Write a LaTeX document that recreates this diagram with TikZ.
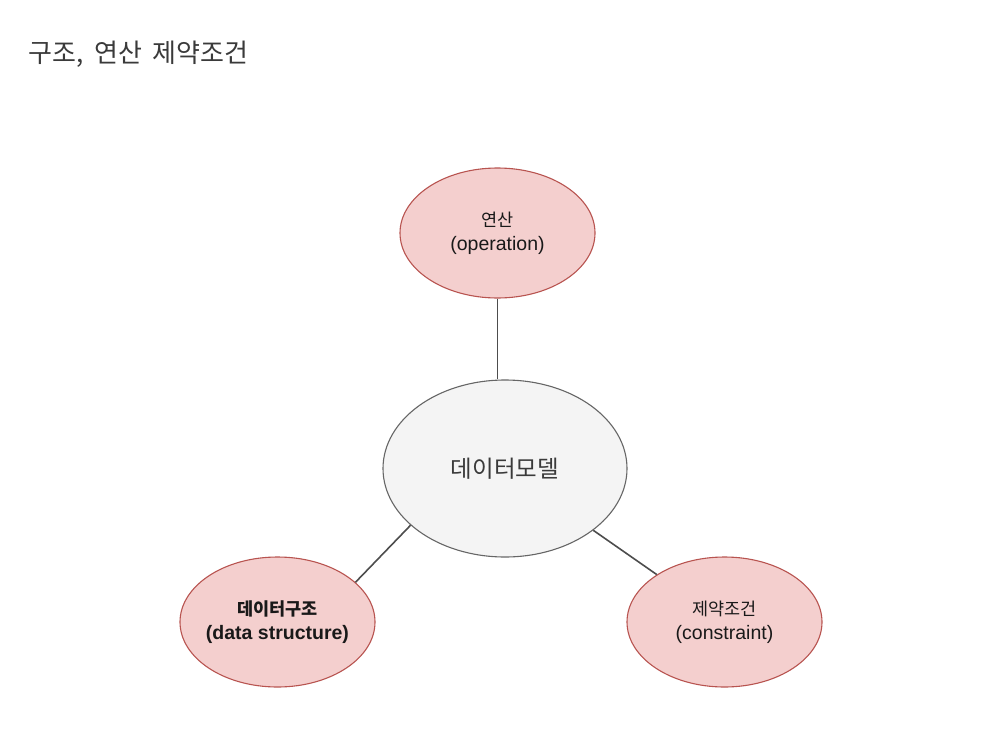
\documentclass[tikz,border=0pt]{standalone}
\usepackage{fontspec}
\setmainfont{Liberation Sans}
\newfontfamily\cjk{Noto Sans CJK KR}
\usetikzlibrary{shapes.geometric}
\definecolor{pinkfill}{HTML}{F4CFCE}
\definecolor{pinkline}{HTML}{B85450}
\definecolor{greyfill}{HTML}{F4F4F4}
\definecolor{greyline}{HTML}{666666}
\definecolor{linkc}{HTML}{4D4D4D}
\definecolor{titlec}{HTML}{3A3A3A}
\begin{document}
\begin{tikzpicture}[x=1pt,y=-1pt,
  blob/.style={ellipse, draw=pinkline, fill=pinkfill, line width=1.1pt, minimum width=195pt, minimum height=130pt, inner sep=0pt},
  hub/.style={ellipse, draw=greyline, fill=greyfill, line width=1.1pt, minimum width=244pt, minimum height=177pt, inner sep=0pt},
  lbl/.style={align=center, text=black!90, font=\fontsize{19.5}{24}\selectfont, inner sep=0pt},
  link/.style={draw=linkc, line width=1.6pt}]
\fill[white] (0,0) rectangle (998,744);
\path[use as bounding box] (0,0) rectangle (998,744);
\node[anchor=base west, inner sep=0pt, text=titlec, font=\cjk\fontsize{26}{30}\selectfont] (title) at (28,62) {구조,\hspace{0.42em}연산\hspace{0.42em}제약조건};
\node[blob] (op) at (497.5,233) {};
\node[hub] (dm) at (505,468.5) {};
\node[blob] (ds) at (277.5,622) {};
\node[blob] (cn) at (724.5,622) {};
\draw[link] (op.south) -- (op.south |- dm.north);
\draw[link] (ds.27) -- (dm.211.5);
\draw[link] (dm.-35.6) -- (cn.145.7);
\node[lbl] (optext) at (op.center) {{\cjk\fontsize{17.5}{24}\selectfont 연산}\\(operation)};
\node[lbl, text=titlec, font=\cjk\fontsize{23.5}{28}\selectfont] (dmtext) at (dm.center) {데이터모델};
\node[lbl, font=\bfseries\fontsize{19.5}{24}\selectfont] (dstext) at (ds.center) {{\cjk\bfseries\fontsize{17.5}{24}\selectfont 데이터구조}\\(data structure)};
\node[lbl] (cntext) at (cn.center) {{\cjk\fontsize{17.5}{24}\selectfont 제약조건}\\(constraint)};
\end{tikzpicture}
\end{document}
